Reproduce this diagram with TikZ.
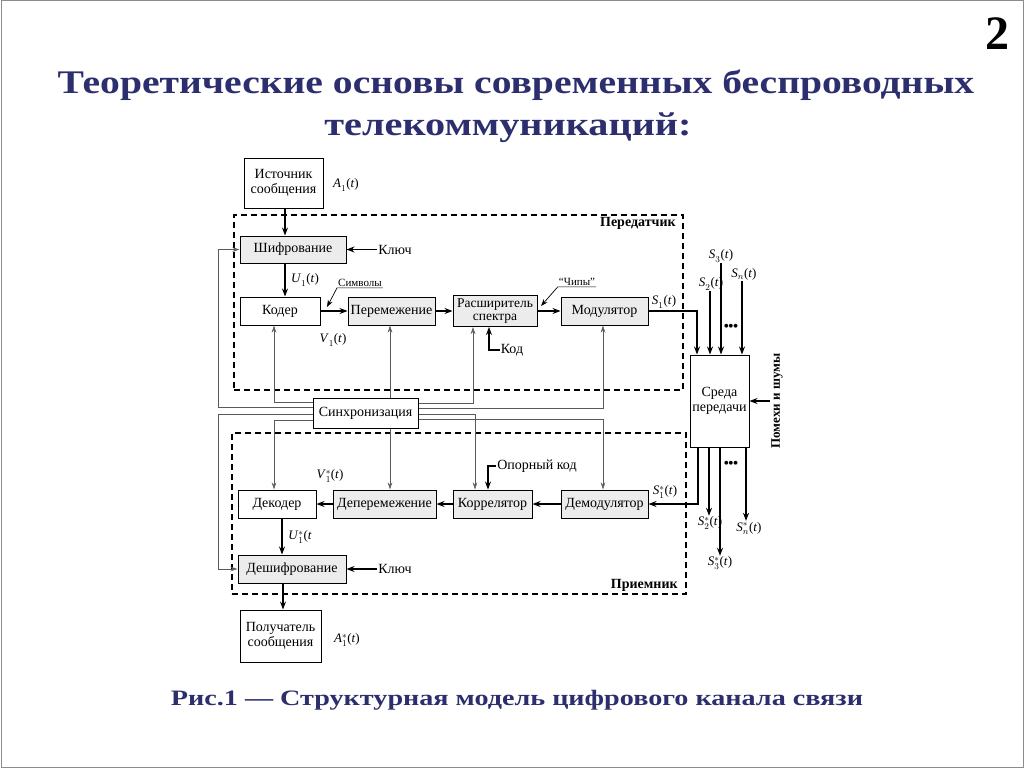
\documentclass[tikz,border=0pt]{standalone}
\usepackage{graphicx}
\usepackage{fontspec}
\setmainfont{Liberation Serif}
\usetikzlibrary{arrows.meta,calc}
\definecolor{titleblue}{RGB}{44,46,110}
\newcommand{\sglab}[3]{\textit{#1}$_{#2}^{#3}$(\textit{t})}
\begin{document}
\begin{tikzpicture}[x=1pt,y=-1pt,
  box/.style={draw,line width=1pt,inner sep=0pt,align=center,font=\fontsize{14}{15}\selectfont},
  gbox/.style={box,fill=gray!15},
  wbox/.style={box,fill=white},
  arr/.style={line width=1.1pt,-{Stealth[length=8pt,width=6pt]}},
  syn/.style={line width=0.6pt,draw=black!65,-{Stealth[length=7pt,width=4.5pt,fill=black!55]}},
  lab/.style={font=\fontsize{14}{15}\selectfont,inner sep=1pt},
  small/.style={font=\fontsize{11}{12}\selectfont,inner sep=1pt},
  sig/.style={font=\fontsize{13}{14}\selectfont,inner sep=1pt},
  dotsst/.style={font=\fontsize{16}{16}\selectfont,inner sep=0pt},
  boldlab/.style={font=\fontsize{14}{15}\selectfont\bfseries,inner sep=1pt},
  frame/.style={draw,line width=1.7pt,dash pattern=on 6pt off 4pt,inner sep=0pt},
  ttl/.style={font=\fontsize{33}{36}\selectfont\bfseries,text=titleblue,anchor=base,inner sep=0pt}
]
\useasboundingbox (0,0) rectangle (1024,768);
\draw[black!45,line width=1pt] (1,1) rectangle (1023,767);

% titles
\node[ttl] (title1) at (516,93) {\scalebox{1.2}[1]{Теоретические основы современных беспроводных}};
\node[ttl] (title2) at (508,135) {\scalebox{1.22}[1]{телекоммуникаций:}};
\node[font=\fontsize{48}{50}\selectfont\bfseries] (pnum) at (997,34) {2};
\node[font=\fontsize{22}{24}\selectfont\bfseries,text=titleblue,anchor=base,inner sep=0pt] (caption) at (517,705) {\scalebox{1.28}[1]{Рис.1 — Структурная модель цифрового канала связи}};

% frames
\node[frame,minimum width=449,minimum height=175] (tx) at (458.5,302.5) {};
\node[boldlab,anchor=north east] (txl) at ([xshift=-7pt,yshift=-2pt]tx.north east) {Передатчик};
\node[frame,minimum width=454,minimum height=161] (rx) at (459,513.5) {};
\node[boldlab,anchor=south east] (rxl) at ([xshift=-8pt,yshift=2pt]rx.south east) {Приемник};

% boxes
\node[wbox,minimum width=79,minimum height=50] (src) at (283.5,183) {Источник\\сообщения};
\node[gbox,minimum width=106,minimum height=27] (shif) at (293,249.5) {Шифрование};
\node[wbox,minimum width=80,minimum height=28] (coder) at (280,311) {Кодер};
\node[gbox,minimum width=87,minimum height=28] (perem) at (391.5,311) {Перемежение};
\node[gbox,minimum width=84,minimum height=31,font=\fontsize{13.5}{13}\selectfont] (rasp) at (495,311) {Расширитель\\спектра};
\node[gbox,minimum width=87,minimum height=28] (mod) at (604.5,311) {Модулятор};
\node[wbox,minimum width=59,minimum height=92] (sreda) at (719.5,401) {Среда\\передачи};
\node[wbox,minimum width=105,minimum height=30] (sync) at (365.5,413) {Синхронизация};
\node[wbox,minimum width=78,minimum height=28] (dec) at (277,504) {Декодер};
\node[gbox,minimum width=103,minimum height=28] (deperem) at (384.5,504) {Деперемежение};
\node[gbox,minimum width=79,minimum height=28] (corr) at (492.5,504) {Коррелятор};
\node[gbox,minimum width=87,minimum height=28] (demod) at (604.5,504) {Демодулятор};
\node[gbox,minimum width=108,minimum height=28] (deshif) at (292,569) {Дешифрование};
\node[wbox,minimum width=81,minimum height=52] (recv) at (280.5,636) {Получатель\\сообщения};

% labels
\node[sig] (a1) at (346,185) {\sglab{A}{1}{}};
\node[sig] (u1) at (305,280) {\sglab{U}{1}{}};
\node[sig] (v1) at (333,340) {\sglab{V}{1}{}};
\node[sig] (s1) at (664,302) {\sglab{S}{1}{}};
\node[sig] (s2) at (711,284) {\sglab{S}{2}{}};
\node[sig] (s3) at (721,256) {\sglab{S}{3}{}};
\node[sig] (sn) at (744,274) {\sglab{S}{n}{}};
\node[dotsst] (dots1) at (731,328) {\textbullet\kern-1pt\textbullet\kern-1pt\textbullet};
\node[sig] (s1s) at (665,492) {\sglab{S}{1}{*}};
\node[sig] (s2s) at (710,523) {\sglab{S}{2}{*}};
\node[sig] (s3s) at (720,563) {\sglab{S}{3}{*}};
\node[sig] (sns) at (749,528) {\sglab{S}{n}{*}};
\node[dotsst] (dots2) at (731,465) {\textbullet\kern-1pt\textbullet\kern-1pt\textbullet};
\node[sig] (v1s) at (330,476) {\sglab{V}{1}{*}};
\node[sig] (u1s) at (300,537) {\textit{U}$_{1}^{*}$(\textit{t}};
\node[sig] (a1s) at (347,640) {\sglab{A}{1}{*}};
\node[lab] (key1) at (395,249.5) {Ключ};
\node[lab] (key2) at (395,569) {Ключ};
\node[lab] (kod) at (512,350) {Код};
\node[lab] (refc) at (537,466) {Опорный код};
\node[small] (sym) at (360,283) {Символы};
\node[small] (chip) at (577,282) {“Чипы”};
\node[font=\fontsize{13}{14}\selectfont\bfseries,inner sep=1pt,rotate=90] (noise) at (777,401) {Помехи и шумы};
\coordinate (symp) at (327,307);
\coordinate (chipp) at (541,306);

% main signal path
\draw[arr] (src.south -| 285,0) -- (shif.north -| 285,0);
\draw[arr] (key1.west) -- (shif.east);
\draw[arr] (shif.south -| 285,0) -- (coder.north -| 285,0);
\draw[arr] (coder) -- (perem);
\draw[arr] (perem) -- (rasp);
\draw[arr] (rasp) -- (mod);
\draw[line width=0.7pt,-{Stealth[length=7pt,width=5pt]}] (sym.south east) -- (sym.south west) -- (symp);
\draw[line width=0.7pt,-{Stealth[length=7pt,width=5pt]}] (chip.south east) -- (chip.south west) -- (chipp);
\draw[arr] (kod.west) -| (rasp.south -| 489,0);
\draw[arr] (mod.east) -| (sreda.north -| 697,0);
\draw[arr] (s2.south -| 710,0) -- (sreda.north -| 710,0);
\draw[arr] (s3.south -| 721,0) -- (sreda.north -| 721,0);
\draw[arr] (sn.south -| 742,0) -- (sreda.north -| 742,0);
\draw[arr] (noise.north) -- (sreda.east);
\draw[arr] (sreda.south -| 698,0) |- (demod.east);
\draw[arr] (sreda.south -| 709,0) -- (s2s.north -| 709,0);
\draw[arr] (sreda.south -| 720,0) -- (s3s.north -| 720,0);
\draw[arr] (sreda.south -| 746,0) -- (sns.north -| 746,0);
\draw[arr] (demod) -- (corr);
\draw[arr] (corr) -- (deperem);
\draw[arr] (deperem) -- (dec);
\draw[arr] (refc.west) -| (corr.north -| 488,0);
\draw[arr] (dec.south -| 282,0) -- (deshif.north -| 282,0);
\draw[arr] (key2.west) -- (deshif.east);
\draw[arr] (deshif.south -| 283,0) -- (recv.north -| 283,0);

% synchronisation
\draw[syn] (sync.west |- 0,402) -| (coder.south -| 274,0);
\draw[syn] (sync.north -| 390,0) -- (perem.south -| 390,0);
\draw[syn] (sync.east |- 0,403) -| (rasp.south -| 473,0);
\draw[syn] (sync.east |- 0,408) -| (mod.south -| 603,0);
\draw[syn] (sync.west |- 0,407) -| (shif.west -| 218,0) -- (shif.west);
\draw[syn] (sync.west |- 0,414) -| (deshif.west -| 218,0) -- (deshif.west);
\draw[syn] (sync.west |- 0,420) -| (dec.north -| 274,0);
\draw[syn] (sync.south -| 390,0) -- (deperem.north -| 390,0);
\draw[syn] (sync.east |- 0,414) -| (corr.north -| 475,0);
\draw[syn] (sync.east |- 0,419) -| (demod.north -| 603,0);
\end{tikzpicture}
\end{document}
